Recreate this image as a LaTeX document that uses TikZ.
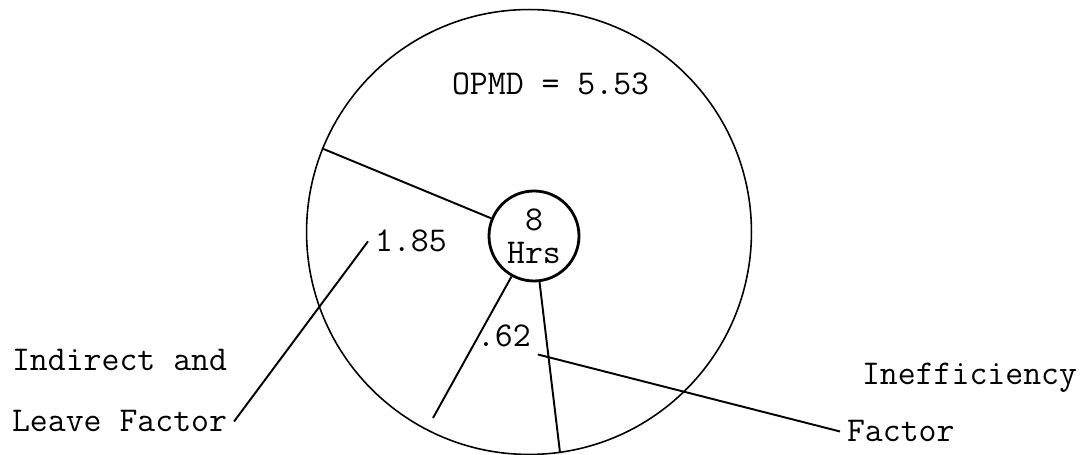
\documentclass[tikz,border=0pt]{standalone}
\usepackage{fontspec}
\usepackage{tikz}
\usetikzlibrary{positioning}
\newcommand{\typew}{\fontsize{19.8}{18}\selectfont\ttfamily}
\tikzset{
  ring/.style={draw,circle,line width=0.9pt,minimum size=8.9cm,inner sep=0pt},
  hub/.style={draw,circle,line width=1.6pt,minimum size=1.8cm,inner sep=0pt,align=center,font=\typew},
  spoke/.style={line width=1.1pt},
  lbl/.style={font=\typew,inner sep=0pt,outer sep=4pt,anchor=base west}
}
\begin{document}
\begin{tikzpicture}[x=0.02cm,y=-0.02cm]
  \useasboundingbox (0,0) rectangle (1089,455);
  \node[ring] (opmd) at (529,232) {};
  \node[hub] (hrs) at (534,236) {8\\[1pt]Hrs};
  % labels
  \node[lbl] (total) at (445,95) {OPMD = 5.53};
  \node[lbl] (n185) at (368,252) {1.85};
  \node[lbl] (n62) at (470,347) {.62};
  \node[lbl] (indir) at (5,371) {Indirect and};
  \node[lbl] (leave) at (5,432) {Leave Factor};
  \node[lbl] (ineff) at (855,385) {Inefficiency};
  \node[lbl] (factor) at (840,442) {Factor};
  % spokes
  \coordinate (s2) at (433,418);
  \draw[spoke] (hrs) -- (opmd.158);
  \draw[spoke] (hrs) -- (s2);
  \draw[spoke] (hrs) -- (opmd.278.5);
  % leaders
  \draw[spoke] (n185.west) -- (leave.east);
  \draw[spoke] (n62.south east) -- (factor.west);
\end{tikzpicture}
\end{document}
